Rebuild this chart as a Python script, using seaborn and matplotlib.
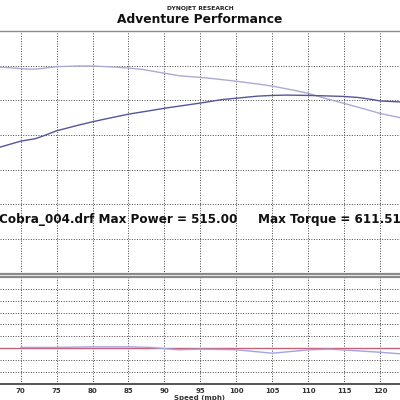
import pandas as pd
import matplotlib
matplotlib.use("Agg")
import matplotlib.pyplot as plt
import seaborn as sns
from matplotlib.ticker import MultipleLocator

# torque run (light curve), top panel
torque_mph = [67, 69, 71, 72, 73, 75, 78, 80, 83, 85, 87, 90, 92, 95, 97, 100,
              103, 105, 108, 110, 113, 115, 118, 120, 123]
torque_val = [596, 593, 590, 590, 592, 597, 599, 599, 596, 593, 589, 578, 571, 566,
              562, 555, 547, 541, 529, 520, 502, 491, 474, 462, 449]

# power run (dark curve), top panel
power_mph = [67, 70, 72, 73, 75, 78, 80, 82, 85, 88, 90, 92, 95, 98, 100, 103,
             105, 107, 110, 112, 115, 117, 119, 120, 123]
power_val = [364, 382, 389, 396, 412, 428, 438, 447, 460, 470, 477, 483, 492, 502,
             506, 512, 514, 515, 514, 513, 511, 508, 502, 498, 495]

# bottom panel: AFR traces
afr_ref_mph = [67, 80, 100, 123]
afr_ref_val = [12.0, 12.0, 12.0, 12.0]
afr_mph = [70, 75, 80, 85, 88, 90, 92, 95, 100, 105, 110, 113, 115, 118, 120, 123]
afr_val = [12.05, 12.05, 12.1, 12.1, 12.05, 11.95, 11.85, 11.9, 11.85, 11.56, 11.84,
           11.9, 11.83, 11.72, 11.64, 11.5]

speed_ticks = [70, 75, 80, 85, 90, 95, 100, 105, 110, 115, 120]

top_df = pd.concat([
    pd.DataFrame({"mph": torque_mph, "val": torque_val, "run": "torque"}),
    pd.DataFrame({"mph": power_mph, "val": power_val, "run": "power"}),
])
bot_df = pd.concat([
    pd.DataFrame({"mph": afr_ref_mph, "val": afr_ref_val, "run": "ref"}),
    pd.DataFrame({"mph": afr_mph, "val": afr_val, "run": "afr"}),
])

sns.set_style("white")
plt.rcParams["font.family"] = ["DejaVu Sans"]

fig = plt.figure(figsize=(4, 4), dpi=100)
ax1 = fig.add_axes([0, 0.31625, 1, 0.60625])
ax2 = fig.add_axes([0, 0.04125, 1, 0.26625])

xmin, xmax = 67.12, 122.78
grid_kw = dict(color="#444444", linestyle=(0, (1, 1.6)), linewidth=0.7)

sns.lineplot(data=top_df, x="mph", y="val", hue="run",
             palette={"torque": "#aaaad6", "power": "#55559c"},
             linewidth=1.0, legend=False, ax=ax1, sort=False)
ax1.set_xlim(xmin, xmax)
ax1.set_ylim(0, 700)
ax1.xaxis.set_major_locator(MultipleLocator(5))
ax1.yaxis.set_major_locator(MultipleLocator(100))
ax1.grid(True, **grid_kw)
ax1.set_xticklabels([])
ax1.set_yticklabels([])
ax1.tick_params(length=0)
ax1.set_xlabel("")
ax1.set_ylabel("")
for side in ["left", "right"]:
    ax1.spines[side].set_visible(False)
ax1.spines["top"].set_color("#8a8a8a")
ax1.spines["top"].set_linewidth(1.0)
ax1.spines["bottom"].set_color("#8a8a8a")
ax1.spines["bottom"].set_linewidth(1.6)

ax1.text(0.5925, 0.221, "Cobra_004.drf Max Power = 515.00", transform=ax1.transAxes,
         ha="right", va="center", fontsize=8.65, fontweight="bold", color="#111111")
ax1.text(0.645, 0.221, "Max Torque = 611.51", transform=ax1.transAxes,
         ha="left", va="center", fontsize=8.65, fontweight="bold", color="#111111")

sns.lineplot(data=bot_df, x="mph", y="val", hue="run",
             palette={"ref": "#c8607c", "afr": "#a4a4e0"},
             linewidth=1.0, legend=False, ax=ax2, sort=False)
ax2.set_xlim(xmin, xmax)
ax2.set_ylim(9, 18)
ax2.set_xticks(speed_ticks)
ax2.set_xticklabels([str(t) for t in speed_ticks], fontsize=5, fontweight="bold",
                    color="#333333")
ax2.xaxis.set_minor_locator(MultipleLocator(1))
ax2.yaxis.set_major_locator(MultipleLocator(1))
ax2.set_yticklabels([])
ax2.grid(True, **grid_kw)
ax2.tick_params(axis="x", which="both", direction="inout", length=3, width=0.6,
                color="#444444", pad=1.5)
ax2.tick_params(axis="y", length=0)
ax2.set_xlabel("Speed (mph)", fontsize=5, fontweight="bold", color="#333333",
               labelpad=1)
ax2.set_ylabel("")
for side in ["left", "right"]:
    ax2.spines[side].set_visible(False)
ax2.spines["top"].set_color("#8a8a8a")
ax2.spines["top"].set_linewidth(1.6)
ax2.spines["bottom"].set_color("#555555")
ax2.spines["bottom"].set_linewidth(1.4)

fig.text(0.5, 0.979, "DYNOJET RESEARCH", ha="center", va="center", fontsize=4.3,
         fontweight="bold", color="#222222")
fig.text(0.5, 0.951, "Adventure Performance", ha="center", va="center", fontsize=8.8,
         fontweight="bold", color="#111111")

fig.savefig("out.png", dpi=100)
